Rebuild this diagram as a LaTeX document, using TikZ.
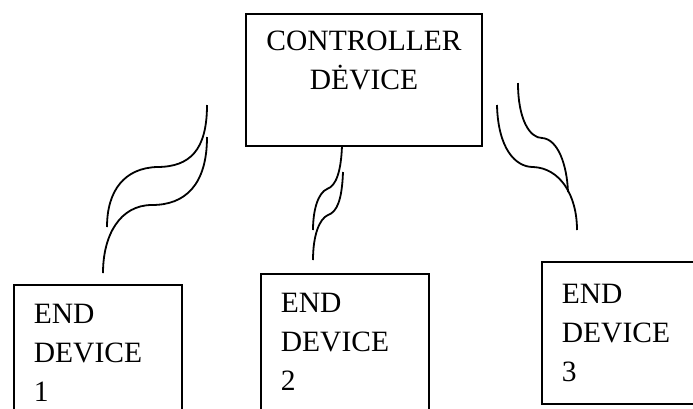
\documentclass[tikz,border=0pt]{standalone}
\usepackage{fontspec}
\setmainfont{Liberation Serif}
\usetikzlibrary{positioning}

\begin{document}
\begin{tikzpicture}[x=1pt, y=-1pt,
  box/.style={draw, line width=1.8pt, rectangle, font=\fontsize{29.5}{39}\selectfont},
  endbox/.style={box, anchor=north west, text width=128pt, inner xsep=20pt, inner ysep=0pt, align=left, minimum height=175pt},
  wave/.style={line width=1.8pt}]
  \useasboundingbox (0,0) rectangle (693,408);
  \clip (0,0) rectangle (693,408);
  % controller
  \node[box, text width=200pt, inner xsep=18pt, align=center, minimum height=132pt] (ctrl) at (364,80) {CONTROLLER\\DĖVICE\\~};
  % end devices
  \node[endbox] (end1) at (13,284) {END\\DEVICE\\1\\~};
  \node[endbox] (end2) at (260,273) {END\\DEVICE\\2\\~};
  \node[endbox, minimum height=142pt] (end3) at (541,261) {END\\DEVICE\\3};
  % wireless links
  \draw[wave] (207,105) .. controls (207,150) and (190,167) .. (157,167) .. controls (125,168) and (107,190) .. (107,227);
  \draw[wave] (207,137) .. controls (207,185) and (185,205) .. (152,205) .. controls (120,205) and (103,235) .. (103,273);
  \draw[wave] (342,146) .. controls (341,172) and (336,186) .. (327,189) .. controls (318,193) and (313,210) .. (313,230);
  \draw[wave] (343,172) .. controls (342,200) and (337,212) .. (328,215) .. controls (319,219) and (313,236) .. (313,260);
  \draw[wave] (518,83) .. controls (518,120) and (530,138) .. (542,138) .. controls (558,139) and (567,165) .. (568,192);
  \draw[wave] (497,105) .. controls (498,148) and (515,167) .. (533,167) .. controls (560,168) and (577,195) .. (577,230);
\end{tikzpicture}
\end{document}
